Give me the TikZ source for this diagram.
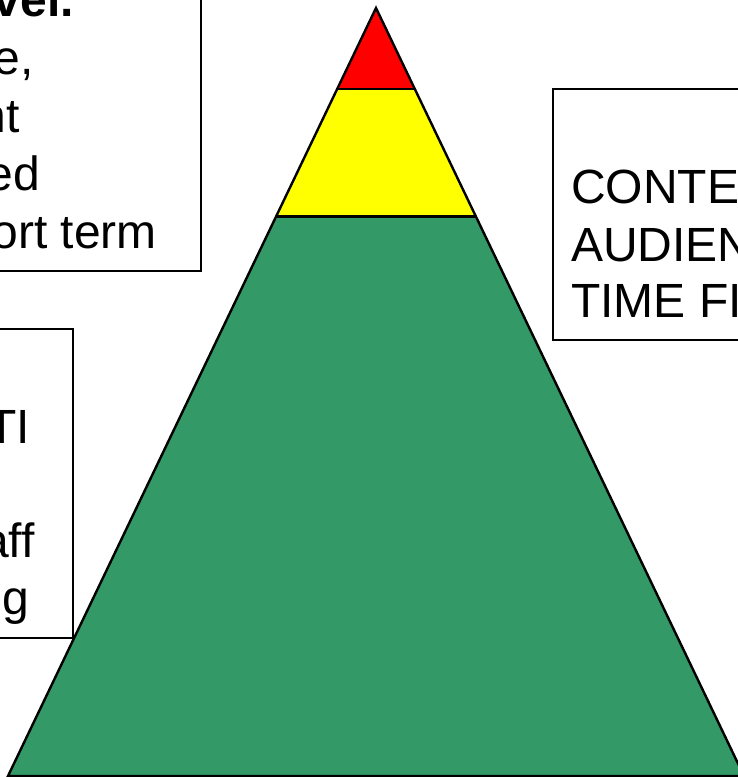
\documentclass[tikz,border=0pt]{standalone}
\usepackage{fontspec}
\setmainfont{Liberation Sans}
\definecolor{pyrred}{RGB}{255,0,0}
\definecolor{pyryellow}{RGB}{255,255,0}
\definecolor{pyrgreen}{RGB}{51,153,102}
\begin{document}
\begin{tikzpicture}[x=1pt,y=-1pt,
  lbl/.style={inner sep=0pt, anchor=base east, font=\fontsize{48}{57}\selectfont},
  boxline/.style={draw=black, line width=2.4pt, fill=white},
  edge/.style={draw=black, line width=2.4pt, line join=miter}]
\useasboundingbox (0,0) rectangle (738,777);
\clip (0,0) rectangle (738,777);

% pyramid corners
\coordinate (apex) at (376,8);
\coordinate (r1l) at (337.2,89);
\coordinate (r1r) at (414.8,89);
\coordinate (y1l) at (276.2,216.5);
\coordinate (y1r) at (475.8,216.5);
\coordinate (bl) at (8,776);
\coordinate (br) at (744,776);

\fill[pyrred] (apex) -- (r1r) -- (r1l) -- cycle;
\fill[pyryellow] (r1l) -- (r1r) -- (y1r) -- (y1l) -- cycle;
\fill[pyrgreen] (y1l) -- (y1r) -- (br) -- (bl) -- cycle;
\draw[edge] (apex) -- (br) -- (bl) -- cycle;
\draw[edge] (r1l) -- (r1r);
\draw[edge] (y1l) -- (y1r);

% top-left box
\coordinate (tlA) at (-20,-20);
\coordinate (tlB) at (201,271);
\draw[boxline] (tlA) rectangle (tlB);
\node[lbl, font=\fontsize{48}{57}\selectfont\bfseries] (t1) at (74,16) {vel.};
\node[lbl] (t2) at (34,74) {e,};
\node[lbl] (t3) at (20,132) {nt};
\node[lbl] (t4) at (40,190) {ed};
\node[lbl] (t5) at (157,248) {ort term};

% middle-left box
\coordinate (mlA) at (-20,329);
\coordinate (mlB) at (73,638);
\draw[boxline] (mlA) rectangle (mlB);
\node[lbl] (m1) at (30,443) {TI};
\node[lbl] (m2) at (35,557) {aff};
\node[lbl] (m3) at (29,614) {g};

% right box
\coordinate (rbA) at (553,89);
\coordinate (rbB) at (760,340);
\draw[boxline] (rbA) rectangle (rbB);
\node[lbl, anchor=base west] (r1) at (571,203) {CONTE};
\node[lbl, anchor=base west] (r2) at (571,261) {AUDIEN};
\node[lbl, anchor=base west] (r3) at (571,317) {TIME FI};
\end{tikzpicture}
\end{document}
